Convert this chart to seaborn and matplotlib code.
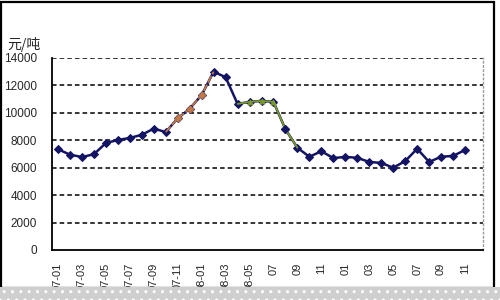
import matplotlib
matplotlib.use("Agg")
import matplotlib.pyplot as plt
import seaborn as sns
import pandas as pd
import numpy as np
from matplotlib.patches import Rectangle

months = ["07-01","07-02","07-03","07-04","07-05","07-06","07-07","07-08","07-09","07-10","07-11","07-12",
          "08-01","08-02","08-03","08-04","08-05","08-06","08-07","08-08","08-09","08-10","08-11","08-12",
          "09-01","09-02","09-03","09-04","09-05","09-06","09-07","09-08","09-09","09-10","09-11"]
prices = [7350, 6950, 6780, 6980, 7800, 8020, 8170, 8400, 8850, 8600, 9600, 10300,
          11300, 13000, 12600, 10650, 10800, 10870, 10800, 8800, 7450, 6800, 7200, 6700,
          6790, 6720, 6420, 6350, 6000, 6480, 7380, 6420, 6800, 6860, 7290]
tick_labels = ["07-01","07-03","07-05","07-07","07-09","07-11","08-01","08-03","08-05",
               "07","09","11","01","03","05","07","09","11"]
y_ticks = [0, 2000, 4000, 6000, 8000, 10000, 12000, 14000]
orange_range = (9, 13)
green_range = (15, 20)

df = pd.DataFrame({"idx": np.arange(len(months)), "month": months, "price": prices})

sns.set_style("white")
plt.rcParams['font.family'] = ['Liberation Sans', 'Noto Sans CJK SC', 'DejaVu Sans']

fig = plt.figure(figsize=(5, 3), dpi=100)
ax = fig.add_axes([0.104, 0.1667, 0.862, 0.64])

navy = "#141464"
orange = "#c07848"
green = "#7a9a2a"

sns.lineplot(data=df, x="idx", y="price", ax=ax, color=navy, linewidth=1.8,
             marker="D", markersize=4.5, markeredgecolor=navy, zorder=3)
seg_o = df.iloc[orange_range[0]:orange_range[1] + 1]
sns.lineplot(data=seg_o, x="idx", y="price", ax=ax, color=orange, linewidth=1.3,
             zorder=4, linestyle=(0, (4, 1.2)))
sns.lineplot(data=seg_o.iloc[1:-1], x="idx", y="price", ax=ax, color=orange, linewidth=0,
             marker="D", markersize=3.5, markeredgecolor=orange, zorder=5)
seg_g = df.iloc[green_range[0]:green_range[1] + 1]
sns.lineplot(data=seg_g, x="idx", y="price", ax=ax, color=green, linewidth=1.3, zorder=4)
sns.lineplot(data=seg_g.iloc[1:4], x="idx", y="price", ax=ax, color=green, linewidth=0,
             marker="^", markersize=3.5, markeredgecolor=green, zorder=5)
sns.lineplot(data=seg_g.iloc[4:5], x="idx", y="price", ax=ax, color=navy, linewidth=0,
             marker="D", markersize=4.5, markeredgecolor=navy, zorder=5)

ax.set_xlim(-0.5, 35.5)
ax.set_ylim(0, 14000)
ax.set_yticks(y_ticks)
ax.set_yticklabels([str(v) for v in y_ticks], fontsize=8.5)
ax.set_xticks(np.arange(0, len(months), 2))
ax.set_xticklabels(tick_labels, rotation=90, fontsize=8, va="top")
ax.set_xticks(np.arange(-0.5, 36, 1), minor=True)
ax.tick_params(axis="x", which="major", length=0, pad=9)
ax.tick_params(axis="x", which="minor", length=3, direction="in", width=1, color="black")
ax.tick_params(axis="y", length=0, pad=11)
ax.set_xlabel("")
ax.set_ylabel("")

for v in y_ticks[1:]:
    ax.axhline(v, color="black", linewidth=1.1, linestyle=(0, (3, 2)), zorder=1)

for side in ["left", "bottom"]:
    ax.spines[side].set_color("black")
    ax.spines[side].set_linewidth(1.3)
ax.spines["top"].set_visible(False)
ax.spines["right"].set_color("#999999")
ax.spines["right"].set_linestyle((0, (1, 2)))
ax.spines["right"].set_linewidth(1)

fig.text(0.014, 0.85, "元/吨", fontsize=10, family=['Noto Sans CJK SC', 'DejaVu Sans'],
         ha="left", va="center")

# outer frame
fig.add_artist(Rectangle((0.002, 0.04), 0.985, 0.955, transform=fig.transFigure,
                         fill=False, edgecolor="black", linewidth=1.6, zorder=0))
# bottom band
fig.add_artist(Rectangle((0, 0), 1, 0.043, transform=fig.transFigure,
                         facecolor="#cfcfcf", edgecolor="white", hatch="..",
                         linewidth=0, zorder=10))

fig.savefig("out.png", dpi=100)
